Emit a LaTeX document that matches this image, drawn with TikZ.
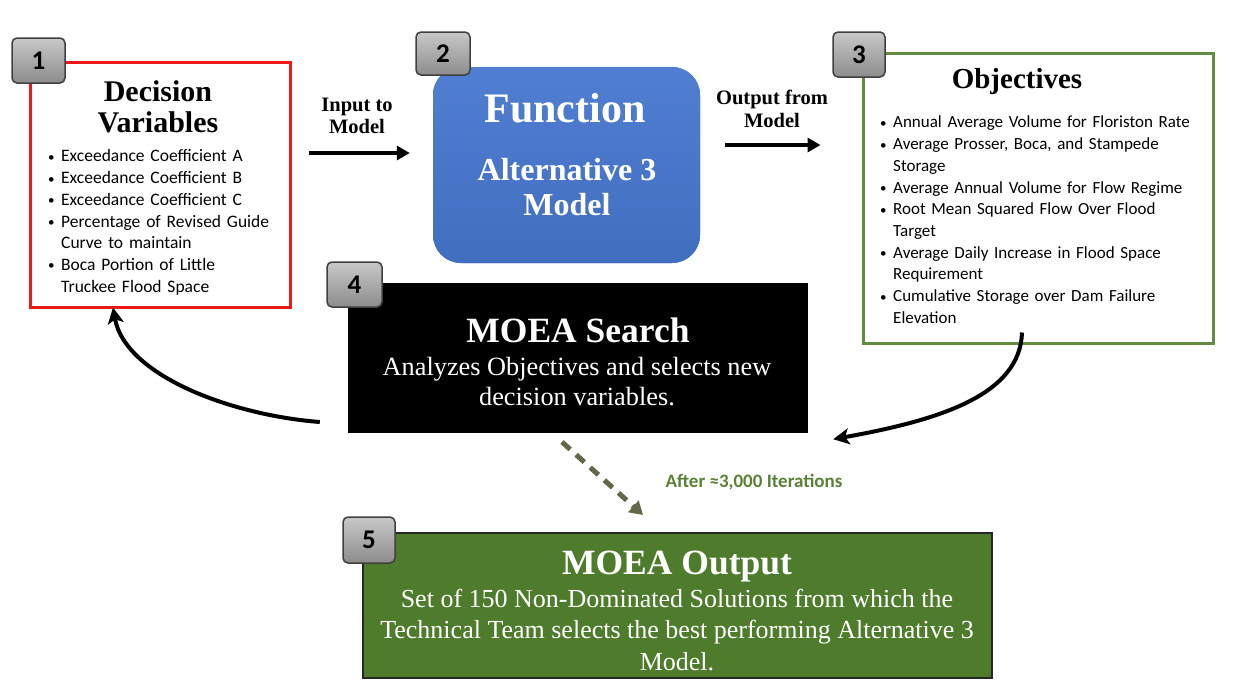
\documentclass[tikz,border=0pt]{standalone}
\usepackage{fontspec}
\setmainfont{Liberation Serif}
\newfontfamily\calib{Carlito}
\usetikzlibrary{arrows.meta}

\definecolor{redb}{RGB}{235,25,25}
\definecolor{blueb}{RGB}{66,110,192}
\definecolor{bluet}{RGB}{80,126,208}
\definecolor{greenb}{RGB}{100,140,65}
\definecolor{greenf}{RGB}{78,124,44}
\definecolor{olivea}{RGB}{98,104,72}
\definecolor{itgreen}{RGB}{92,128,55}
\definecolor{badgetop}{RGB}{200,200,200}
\definecolor{badgebot}{RGB}{140,140,140}

\newcommand{\fsz}[2]{\fontsize{#1}{#2}\selectfont}
\newcommand{\bl}[1]{\par\hangindent=13pt\hangafter=1\noindent\makebox[13pt][l]{\raisebox{0.5pt}{\fsz{13}{13}\textbullet}}#1}

\tikzset{
  badge/.style={draw=black!75, line width=1.5pt, rounded corners=5pt,
    top color=badgetop, bottom color=badgebot, inner sep=0pt,
    font=\calib\bfseries\fsz{27}{30}},
  bigarrow/.style={line width=4.5pt, -{Triangle[length=13pt,width=14pt]}},
  curvearrow/.style={line width=4pt, -{Stealth[length=16pt,width=16pt,inset=4pt]}},
  dasharrow/.style={line width=5pt, draw=olivea, dash pattern=on 11pt off 8pt,
    -{Triangle[length=13pt,width=15pt]}},
  lbl/.style={inner sep=0pt, align=center},
  lst/.style={inner sep=0pt, align=left, anchor=north west},
}

\begin{document}
\begin{tikzpicture}[x=1pt,y=-1pt]
\useasboundingbox[fill=white] (0,0) rectangle (1233,681);

% main boxes
\node[draw=redb, line width=3pt, fill=white, minimum width=260pt, minimum height=245pt, inner sep=0pt] (b1) at (160,184.5) {};
\node[fill=blueb, rounded corners=28pt, minimum width=267pt, minimum height=196pt, inner sep=0pt,
      top color=bluet, bottom color=blueb] (b2) at (566.5,165) {};
\node[draw=greenb, line width=3pt, fill=white, minimum width=350pt, minimum height=290pt, inner sep=0pt] (b3) at (1038,198) {};
\node[fill=black, minimum width=460pt, minimum height=150pt, inner sep=0pt] (b4) at (578,358) {};
\node[draw=black!85, line width=1.2pt, fill=greenf, minimum width=629pt, minimum height=145pt, inner sep=0pt] (b5) at (677.5,605.5) {};

% badges
\node[badge, minimum width=53pt, minimum height=45pt] (k1) at (38.5,60.5) {1};
\node[badge, minimum width=54pt, minimum height=43pt] (k2) at (443,53.5) {2};
\node[badge, minimum width=52pt, minimum height=45pt] (k3) at (859,54.5) {3};
\node[badge, minimum width=55pt, minimum height=45pt] (k4) at (354.5,284.5) {4};
\node[badge, minimum width=52pt, minimum height=46pt] (k5) at (369,540) {5};

% box 1 texts
\node[lbl, font=\bfseries\fsz{30}{31}] (t1) at (158,107) {Decision\\Variables};
\node[lst, text width=245pt, font=\calib\fsz{17.5}{21.7}] (l1) at (48,140) {%
\bl{Exceedance Coefficient A}
\bl{Exceedance Coefficient B}
\bl{Exceedance Coefficient C}
\bl{Percentage of Revised Guide\newline Curve to maintain}
\bl{Boca Portion of Little\newline Truckee Flood Space}\par};

% box 2 texts
\node[lbl, text=white, font=\bfseries\fsz{42}{46}] (t2a) at (565,108) {Function};
\node[lbl, text=white, font=\bfseries\fsz{32}{35}] (t2b) at (567,187) {Alternative 3\\Model};

% box 3 texts
\node[lbl, font=\bfseries\fsz{29}{31}] (t3) at (1017,82) {Objectives};
\node[lst, text width=330pt, font=\calib\fsz{17}{21.7}] (l3) at (880,106) {%
\bl{Annual Average Volume for Floriston Rate}
\bl{Average Prosser, Boca, and Stampede\newline Storage}
\bl{Average Annual Volume for Flow Regime}
\bl{Root Mean Squared Flow Over Flood\newline Target}
\bl{Average Daily Increase in Flood Space\newline Requirement}
\bl{Cumulative Storage over Dam Failure\newline Elevation}\par};

% box 4 texts
\node[lbl, text=white, font=\bfseries\fsz{35.5}{38}] (t4a) at (578,330) {MOEA Search};
\node[lbl, text=white, font=\fsz{26.3}{30}] (t4b) at (577,382) {Analyzes Objectives and selects new\\decision variables.};

% box 5 texts
\node[lbl, text=white, font=\bfseries\fsz{35.5}{38}] (t5a) at (677,567) {MOEA Output};
\node[lbl, text=white, font=\fsz{26}{31.5}] (t5b) at (677,630) {Set of 150 Non-Dominated Solutions from which the\\Technical Team selects the best performing Alternative 3\\Model.};

% arrow labels
\node[lbl, font=\bfseries\fsz{20.5}{22}] (ain) at (357,116) {Input to\\Model};
\node[lbl, font=\bfseries\fsz{20.5}{23}] (aout) at (772,108.5) {Output from\\Model};
\node[lbl, text=itgreen, font=\calib\bfseries\fsz{19}{20}] (aft) at (754,482) {After ≈3,000 Iterations};

% connectors
\coordinate (p1s) at ([xshift=17pt]b1.east |- 0,153);
\coordinate (p1e) at ([xshift=-23pt]b2.west |- 0,153);
\draw[bigarrow] (p1s) -- (p1e);
\coordinate (p2s) at ([xshift=25pt]b2.east |- 0,145);
\coordinate (p2e) at ([xshift=-41pt]b3.west |- 0,145);
\draw[bigarrow] (p2s) -- (p2e);

\coordinate (c1s) at ([xshift=-28pt]b4.west |- 0,422);
\coordinate (c1e) at ([xshift=-47pt,yshift=1pt]b1.south);
\draw[curvearrow] (c1s) .. controls (230,415) and (125,375) .. (c1e);

\coordinate (c2s) at ([yshift=12pt]b3.south -| 1022,0);
\coordinate (c2e) at ([xshift=25pt,yshift=-6pt]b4.south east);
\draw[curvearrow] (c2s) .. controls (1020,395) and (940,420) .. (c2e);

\coordinate (d1) at (562,442);
\coordinate (d2) at (643,515);
\draw[dasharrow] (d1) -- (d2);
\end{tikzpicture}
\end{document}
